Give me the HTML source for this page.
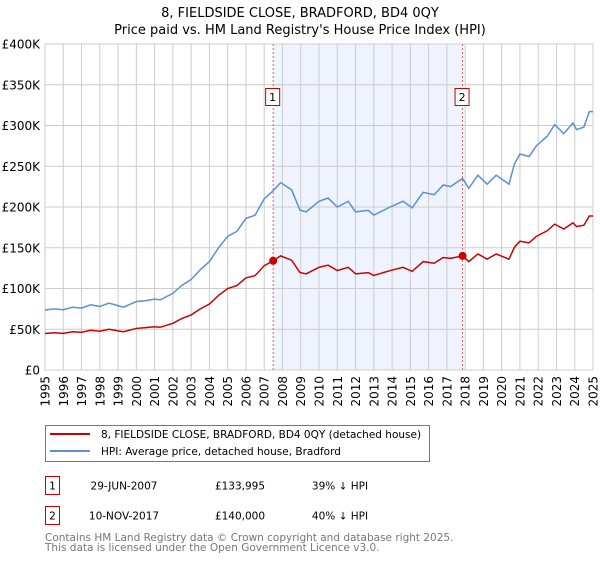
<!DOCTYPE html>
<html><head><meta charset="utf-8"><style>
body{margin:0;background:#fff;font-family:"DejaVu Sans","Liberation Sans",sans-serif;}
svg text{font-family:"DejaVu Sans","Liberation Sans",sans-serif;}
</style></head><body>
<svg id="c" width="600" height="560" xmlns="http://www.w3.org/2000/svg">
<text x="300" y="17" font-size="13" text-anchor="middle" fill="#000">8, FIELDSIDE CLOSE, BRADFORD, BD4 0QY</text>
<text x="300" y="34" font-size="13" text-anchor="middle" fill="#000">Price paid vs. HM Land Registry's House Price Index (HPI)</text>
<g id="plot"></g>
<g>
<rect x="45.5" y="425.5" width="384" height="36" fill="#fff" stroke="#777"/>
<line x1="50" y1="434" x2="90" y2="434" stroke="#cc0000" stroke-width="2"/>
<text x="101" y="438" font-size="10.5">8, FIELDSIDE CLOSE, BRADFORD, BD4 0QY (detached house)</text>
<line x1="50" y1="451" x2="90" y2="451" stroke="#5b8fd6" stroke-width="2"/>
<text x="101" y="455" font-size="10.5">HPI: Average price, detached house, Bradford</text>
</g>
<g font-size="10.5">
<rect x="45.5" y="476.5" width="14" height="18" fill="none" stroke="#cc0000"/>
<text x="52.5" y="489.5" text-anchor="middle">1</text>
<text x="124" y="489.5" text-anchor="middle">29-JUN-2007</text>
<text x="240" y="489.5" text-anchor="middle">£133,995</text>
<text x="340" y="489.5" text-anchor="middle">39% ↓ HPI</text>
<rect x="45.5" y="506.5" width="14" height="18" fill="none" stroke="#cc0000"/>
<text x="52.5" y="519.5" text-anchor="middle">2</text>
<text x="124" y="519.5" text-anchor="middle">10-NOV-2017</text>
<text x="240" y="519.5" text-anchor="middle">£140,000</text>
<text x="340" y="519.5" text-anchor="middle">40% ↓ HPI</text>
</g>
<text x="45" y="541" font-size="10.5" fill="#777">Contains HM Land Registry data © Crown copyright and database right 2025.</text>
<text x="45" y="551" font-size="10.5" fill="#777">This data is licensed under the Open Government Licence v3.0.</text>
</svg>
<script>
const years=[1995,1995.5,1996,1996.5,1997,1997.5,1998,1998.5,1999,1999.3,2000,2000.5,2001,2001.3,2002,2002.5,2003,2003.5,2004,2004.5,2005,2005.5,2006,2006.5,2007,2007.49,2007.9,2008.5,2008.96,2009.3,2010,2010.5,2011,2011.6,2012,2012.7,2013,2013.9,2014.6,2015.1,2015.7,2016.3,2016.8,2017.2,2017.86,2018.2,2018.7,2019.2,2019.7,2020.4,2020.7,2021,2021.5,2021.9,2022.5,2022.9,2023.4,2023.9,2024.1,2024.5,2024.8,2025];
const hpiValues=[73.6,75,74,77,76,80,78,82,79,77,84,85,87,86,94,104,111,123,133,150,164,170,186,190,210,220,230,221,196,194,207,211,200,207,194,196,190,200,207,199,218,215,227,225,235,223,239,228,239,228,253,265,262,275,287,301,290,303,295,298,317,317];
const priceValues=[44.8,45.7,45,46.9,46.3,48.7,47.5,50,48,47,51,52,53,52.4,57.3,63.3,67.6,75,81,91.5,100,103.6,113,115.8,128,134,140,134.7,119.5,118,126,128.6,122,126,118,119.5,116,122,126,121,133,131,138,137,140,133,142.4,136,142.4,136,150.7,158,156,164,171,179,173,180.5,176,177.6,189,189];
const yTicks=[0,50,100,150,200,250,300,350,400];
const yTickLabels=["£0","£50K","£100K","£150K","£200K","£250K","£300K","£350K","£400K"];
const xTicks=[1995,1996,1997,1998,1999,2000,2001,2002,2003,2004,2005,2006,2007,2008,2009,2010,2011,2012,2013,2014,2015,2016,2017,2018,2019,2020,2021,2022,2023,2024,2025];
const saleYears=[2007.49,2017.86];
const saleValues=[133.995,140];
const saleLabels=["1","2"];

const L=45,R=593,T=44,B=370;
const x=v=>L+(v-1995)/30*(R-L);
const y=v=>B-v/400*(B-T);
const NS="http://www.w3.org/2000/svg";
const g=document.getElementById('plot');
function mk(t,a,p){const e=document.createElementNS(NS,t);for(const k in a)e.setAttribute(k,a[k]);(p||g).appendChild(e);return e;}

const shade=mk('rect',{x:x(saleYears[0]),y:T,width:x(saleYears[1])-x(saleYears[0]),height:B-T,fill:'#eef3fd'});



xTicks.forEach(v=>{
  const l=mk('line',{x1:x(v),y1:T,x2:x(v),y2:B,stroke:'#ccc','stroke-width':1});
  
  
  const t=mk('text',{x:0,y:0,'font-size':12,'text-anchor':'end',transform:`translate(${x(v)+4.5},${B+6}) rotate(-90)`});
  t.textContent=v;
  
  
});
yTicks.forEach((v,i)=>{
  const l=mk('line',{x1:L,y1:y(v),x2:R,y2:y(v),stroke:'#ccc','stroke-width':1});
  
  
  const t=mk('text',{x:40,y:y(v)+4.5,'font-size':12,'text-anchor':'end'});
  t.textContent=yTickLabels[i];
  
  
});
const frame=mk('rect',{x:L,y:T,width:R-L,height:B-T,fill:'none',stroke:'#ccc'});



saleYears.forEach((s,i)=>{
  const l=mk('line',{x1:x(s),y1:T,x2:x(s),y2:B,stroke:'#e06060','stroke-dasharray':'2,2','stroke-width':1});
  
  
  const r=mk('rect',{x:x(s)-7.5,y:88.5,width:14,height:17,fill:'#fff',stroke:'#cc0000'});
  
  
  const t=mk('text',{x:x(s)-0.5,y:101,'font-size':11,'text-anchor':'middle'});
  t.textContent=saleLabels[i];
  
  
});

const hp=mk('polyline',{points:years.map((v,i)=>x(v)+','+y(hpiValues[i])).join(' '),fill:'none',stroke:'#5b8fd6','stroke-width':1.5});


const pp=mk('polyline',{points:years.map((v,i)=>x(v)+','+y(priceValues[i])).join(' '),fill:'none',stroke:'#cc0000','stroke-width':1.5});


saleYears.forEach((s,i)=>{
  const c=mk('circle',{cx:x(s),cy:y(saleValues[i]),r:4,fill:'#cc0000'});
  
  
});
</script>
</body></html>
